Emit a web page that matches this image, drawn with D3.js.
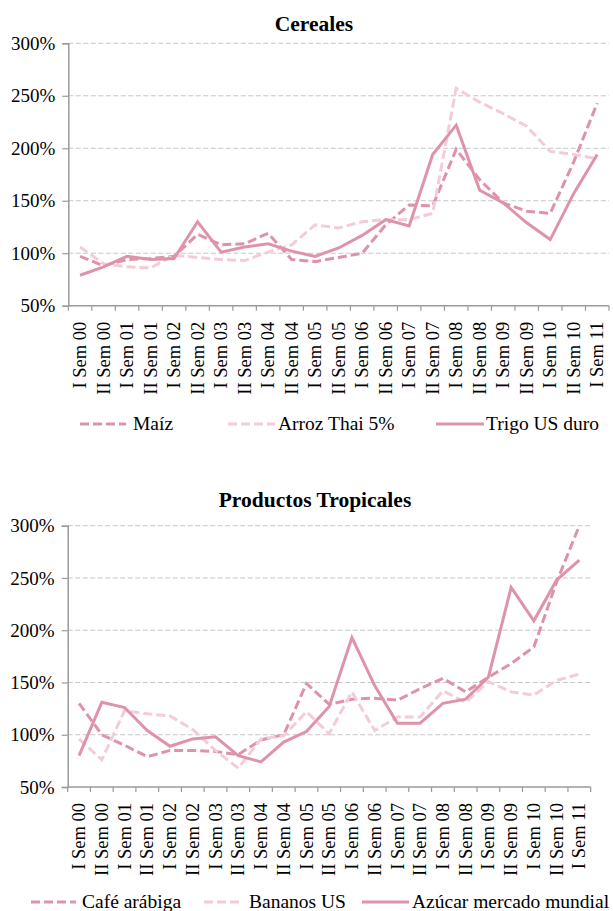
<!DOCTYPE html>
<html><head><meta charset="utf-8">
<script src="https://cdn.jsdelivr.net/npm/d3@7"></script>
<style>
body{margin:0;background:#fff}
svg{display:block}
svg text{font-family:"Liberation Serif","Tinos","Times New Roman","DejaVu Serif",serif !important;fill:#000}
</style>
</head><body>
<svg id="c" width="613" height="911"></svg>
<script>
const categories = ["I Sem 00","II Sem 00","I Sem 01","II Sem 01","I Sem 02","II Sem 02","I Sem 03","II Sem 03","I Sem 04","II Sem 04","I Sem 05","II Sem 05","I Sem 06","II Sem 06","I Sem 07","II Sem 07","I Sem 08","II Sem 08","I Sem 09","II Sem 09","I Sem 10","II Sem 10","I Sem 11"];
const yTicks = [50,100,150,200,250,300];

// Cereales
const maiz   = [97, 88, 94, 95, 97, 118, 108, 109, 119, 94, 92, 96, 100, 127, 146, 145, 199, 170, 148, 140, 138, 187, 243];
const arroz  = [106, 90, 87, 86, 98, 96, 94, 93, 101, 108, 127, 124, 130, 132, 132, 138, 257, 244, 233, 221, 197, 194, 190];
const trigo  = [79, 87, 97, 94, 95, 130, 101, 106, 109, 102, 97, 105, 117, 132, 126, 194, 222, 160, 148, 129, 113, 157, 194];

// Productos Tropicales
const cafe    = [130, 100, 90, 79, 85, 85, 84, 81, 95, 100, 149, 129, 134, 135, 133, 144, 154, 141, 155, 168, 184, 246, 300];
const bananos = [96, 76, 123, 120, 118, 105, 85, 68, 96, 99, 122, 101, 141, 104, 117, 117, 142, 131, 151, 141, 138, 152, 158];
const azucar  = [80, 131, 126, 104, 89, 96, 98, 80, 74, 93, 103, 127, 193, 147, 111, 111, 130, 134, 155, 241, 209, 248, 267];

const PINK = "#DF93A8", LIGHT = "#F2CCD7";
const FONT = '"Liberation Serif","Tinos","Times New Roman","DejaVu Serif",serif';
const svg = d3.select("#c").attr("font-family", FONT);

function drawChart(cfg){
  const g = svg.append("g").attr("font-family", FONT);
  const x = d3.scaleBand().domain(categories).range([cfg.left, cfg.right]).padding(0);
  const y = d3.scaleLinear().domain([50,300]).range([cfg.bottom, cfg.top]);
  const bw = x.bandwidth();

  g.append("text").attr("x", cfg.titleX).attr("y", cfg.titleY)
    .attr("text-anchor","middle").attr("font-weight","bold").attr("font-size",21.5)
    .text(cfg.title);

  g.selectAll(".grid").data(yTicks.filter(d=>d>50)).enter().append("line")
    .attr("x1", cfg.left).attr("x2", cfg.right)
    .attr("y1", d=>y(d)).attr("y2", d=>y(d))
    .attr("stroke","#c6c6c6").attr("stroke-width",1).attr("stroke-dasharray","5,2.5");

  const ya = d3.axisLeft(y).tickValues(yTicks).tickSize(6).tickPadding(7).tickFormat(d=>d+"%");
  const yg = g.append("g").attr("transform",`translate(${cfg.left},0)`).call(ya)
    .attr("font-family", FONT).attr("font-size",19);
  yg.select(".domain").attr("stroke","#9a9a9a").attr("stroke-width",1.5);
  yg.selectAll(".tick line").attr("stroke","#9a9a9a").attr("stroke-width",1.2);
  yg.selectAll(".tick text").attr("fill","#000");

  g.append("line").attr("x1",cfg.left).attr("x2",cfg.right).attr("y1",cfg.bottom).attr("y2",cfg.bottom)
    .attr("stroke","#9a9a9a").attr("stroke-width",1.5);
  const edges = categories.map(c=>x(c)).concat([x(categories[categories.length-1])+bw]);
  g.selectAll(".xt").data(edges).enter().append("line")
    .attr("x1",d=>d).attr("x2",d=>d).attr("y1",cfg.bottom).attr("y2",cfg.bottom+5)
    .attr("stroke","#9a9a9a").attr("stroke-width",1.2);
  g.selectAll(".xl").data(categories).enter().append("text")
    .attr("transform", d=>`translate(${x(d)+bw/2},${cfg.bottom+16}) rotate(-90)`)
    .attr("text-anchor","end").attr("dy","0.33em").attr("font-size",18.5)
    .text(d=>d);

  const line = d3.line().x((d,i)=>x(categories[i])+bw/2).y(d=>y(d));
  cfg.series.forEach(s=>{
    g.append("path").datum(s.values).attr("d",line)
      .attr("fill","none").attr("stroke",s.color).attr("stroke-width",3)
      .attr("stroke-linejoin","miter")
      .attr("stroke-dasharray", s.dash || null);
  });

  cfg.series.forEach(s=>{
    g.append("line").attr("x1",s.lx1).attr("x2",s.lx2).attr("y1",cfg.legendY-6).attr("y2",cfg.legendY-6)
      .attr("stroke",s.color).attr("stroke-width",3).attr("stroke-dasharray",s.dash||null);
    g.append("text").attr("x",s.tx).attr("y",cfg.legendY).attr("font-size",19.5).text(s.name);
  });
}

drawChart({
  title:"Cereales", titleX:314, titleY:31,
  left:68.3, right:609, top:43.3, bottom:305.7, legendY:430,
  series:[
    {name:"Maíz", values:maiz, color:PINK, dash:"9,4", lx1:80, lx2:126, tx:133},
    {name:"Arroz Thai 5%", values:arroz, color:LIGHT, dash:"9,4", lx1:228, lx2:275, tx:278},
    {name:"Trigo US duro", values:trigo, color:PINK, dash:null, lx1:436, lx2:484, tx:486}
  ]
});

drawChart({
  title:"Productos Tropicales", titleX:315, titleY:507,
  left:67.7, right:590.7, top:525.7, bottom:787, legendY:908,
  series:[
    {name:"Café arábiga", values:cafe, color:PINK, dash:"9,4", lx1:31, lx2:76, tx:82},
    {name:"Bananos US", values:bananos, color:LIGHT, dash:"9,4", lx1:204, lx2:241, tx:249},
    {name:"Azúcar mercado mundial", values:azucar, color:PINK, dash:null, lx1:362, lx2:409, tx:412}
  ]
});
</script>
</body></html>
